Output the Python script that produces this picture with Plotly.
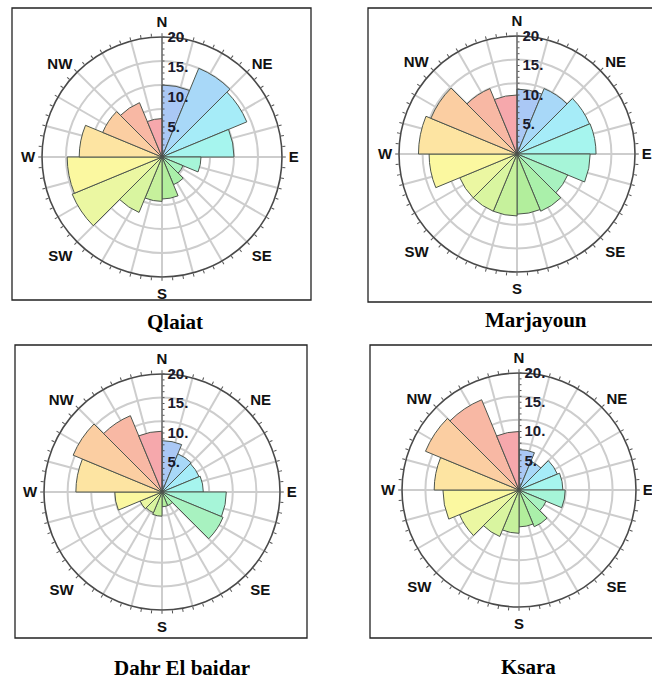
import plotly.graph_objects as go

# Wind direction sectors (16 x 22.5 deg, starting at north, clockwise)
sector_start = [i * 22.5 for i in range(16)]
sector_width = 22.5

# Frequency (%) per sector for each station
qlaiat = [12.0, 16.0, 15.3, 12.0, 6.5, 3.8, 5.0, 7.0, 7.4, 10.0, 16.2, 15.8, 13.8, 10.7, 9.8, 6.4]
marjayoun = [11.0, 12.0, 13.3, 13.4, 12.4, 9.3, 10.5, 10.2, 10.5, 10.5, 10.5, 14.9, 16.7, 15.8, 12.0, 10.0]
dahr_el_baidar = [8.7, 7.0, 6.8, 7.0, 10.9, 11.2, 2.5, 2.5, 4.1, 3.8, 4.0, 8.0, 14.6, 16.3, 14.0, 10.3]
ksara = [6.9, 5.3, 7.1, 7.5, 7.9, 5.0, 6.8, 6.3, 7.4, 8.6, 11.0, 13.0, 14.5, 17.3, 16.7, 10.0]

stations = ["Qlaiat", "Marjayoun", "Dahr El baidar", "Ksara"]
series = [qlaiat, marjayoun, dahr_el_baidar, ksara]

sector_colors = [
    "#aac8f5", "#a8d8f8", "#a6ecf8", "#a6f5ee",
    "#a6f5d8", "#a8f2c0", "#aaf0aa", "#b2ee9c",
    "#c6f19c", "#d9f5a0", "#ebf7a2", "#fbf8a0",
    "#fde4a2", "#fbcea2", "#f8b8a4", "#f6a8ac",
]

# Radial labels and compass labels
radial_label_vals = [5, 10, 15, 20]
radial_label_text = ["5.", "10.", "15.", "20."]
ring_vals = [4, 8, 12, 16]
compass = {0: "N", 45: "NE", 90: "E", 135: "SE", 180: "S", 225: "SW", 270: "W", 315: "NW"}

W, H = 652, 681
# circle centre (px) and radius (px) of each rose
centres = [(162, 157, 120), (517, 154, 118), (162, 492, 118), (519, 490, 117)]
# panel frames (px): x0, y0, x1, y1
frames = [(12, 8, 311, 300), (368, 8, 656, 302), (15, 345, 307, 638), (370, 345, 656, 638)]
# station title positions (px)
title_pos = [(175, 322), (536, 320), (182, 668), (528, 667)]

fig = go.Figure()


def dom(cx, cy, r):
    return dict(x=[(cx - r) / W, (cx + r) / W], y=[1 - (cy + r) / H, 1 - (cy - r) / H])


theta_mid = [s + sector_width / 2 for s in sector_start]

for i, (name, vals) in enumerate(zip(stations, series)):
    base_id = "polar" if i == 0 else f"polar{i + 1}"
    fig.add_trace(go.Barpolar(
        r=vals, theta=theta_mid, width=[sector_width] * 16,
        marker=dict(color=sector_colors, line=dict(color="#4d554d", width=1)),
        subplot=base_id, showlegend=False, name=name,
    ))

for i in range(4):
    top_id = f"polar{i + 5}"
    fig.add_trace(go.Scatterpolar(r=[], theta=[], subplot=top_id, showlegend=False))

layout = dict(width=W, height=H, margin=dict(l=0, r=0, t=0, b=0),
              paper_bgcolor="white", plot_bgcolor="white", showlegend=False)

ang_ticks = list(range(0, 360, 5))
ang_text = [compass.get(a, "") for a in ang_ticks]
rad_ticks = list(range(0, 21))
rad_text = [radial_label_text[radial_label_vals.index(v)] if v in radial_label_vals else "" for v in rad_ticks]

for i, (cx, cy, r) in enumerate(centres):
    d = dom(cx, cy, r)
    base_key = "polar" if i == 0 else f"polar{i + 1}"
    layout[base_key] = dict(
        domain=d, bgcolor="white",
        radialaxis=dict(range=[0, 20], tickvals=ring_vals, showticklabels=False, ticks="",
                        showline=False, gridcolor="#cdcdcd", gridwidth=1.5),
        angularaxis=dict(rotation=90, direction="clockwise", tickvals=list(range(0, 360, 15)),
                         showticklabels=False, ticks="", showline=False,
                         gridcolor="#cdcdcd", gridwidth=1.5),
    )
    lab_font = dict(family="Liberation Sans, Arial, sans-serif", size=15, color="#111111", weight="bold")
    layout[f"polar{i + 5}"] = dict(
        domain=d, bgcolor="rgba(0,0,0,0)",
        radialaxis=dict(range=[0, 20], angle=90, side="clockwise", tickangle=90,
                        tickvals=rad_ticks, ticktext=rad_text, ticks="outside", ticklen=2,
                        tickcolor="#555555", showline=True, linecolor="#444444", linewidth=1,
                        showgrid=False, tickfont=dict(family="Liberation Sans, Arial, sans-serif",
                                                      size=15, color="#1a1a2a", weight="bold")),
        angularaxis=dict(rotation=90, direction="clockwise", tickvals=ang_ticks, ticktext=ang_text,
                         ticks="outside", ticklen=3, tickcolor="#555555", showline=True,
                         linecolor="#4a4a4a", linewidth=1.6, showgrid=False, tickfont=lab_font),
    )

shapes = []
for (x0, y0, x1, y1) in frames:
    shapes.append(dict(type="rect", xref="paper", yref="paper",
                       x0=x0 / W, x1=x1 / W, y0=1 - y1 / H, y1=1 - y0 / H,
                       line=dict(color="#222222", width=1.3), fillcolor="rgba(0,0,0,0)", layer="below"))
layout["shapes"] = shapes

annotations = []
for name, (tx, ty) in zip(stations, title_pos):
    annotations.append(dict(text=name, x=tx / W, y=1 - ty / H, xref="paper", yref="paper",
                            showarrow=False, xanchor="center", yanchor="middle",
                            font=dict(family="Liberation Serif, Times New Roman, serif", size=21,
                                      color="black", weight="bold")))
layout["annotations"] = annotations

fig.update_layout(**layout)
fig.write_html("out.html")
